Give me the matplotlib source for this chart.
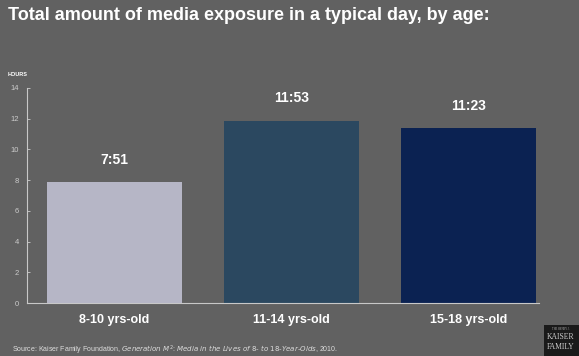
import matplotlib
matplotlib.use("Agg")
import matplotlib.pyplot as plt
from matplotlib.patches import Rectangle

categories = ["8-10 yrs-old", "11-14 yrs-old", "15-18 yrs-old"]
values = [7 + 51/60, 11 + 53/60, 11 + 23/60]
value_labels = ["7:51", "11:53", "11:23"]
yticks = [0, 2, 4, 6, 8, 10, 12, 14]
colors = ["#b6b6c6", "#2b4860", "#0b2252"]

bg = "#616161"
fig = plt.figure(figsize=(5.79, 3.56), dpi=100, facecolor=bg)
ax = fig.add_axes([27/579, 53/356, 512/579, 215/356])
ax.set_facecolor(bg)
font = "Liberation Sans"

x = list(range(len(categories)))
ax.bar(x, values, width=0.765, color=colors, edgecolor="none")
ax.set_xlim(-0.494, 2.40)
ax.set_ylim(0, 14)
ax.set_yticks(yticks)
ax.set_yticklabels([str(t) for t in yticks], fontsize=5.5, color="#dddddd",
                   family=font)
ax.tick_params(axis="y", direction="in", length=2, width=0.6, colors="#cccccc",
               pad=6)
ax.set_xticks(x)
ax.set_xticklabels(categories, fontsize=9, color="white", family=font,
                   fontweight="bold")
ax.tick_params(axis="x", length=0, pad=8)
for s in ["top", "right"]:
    ax.spines[s].set_visible(False)
for s in ["left", "bottom"]:
    ax.spines[s].set_color("#c8c8c8")
    ax.spines[s].set_linewidth(0.8)

for xi, v, lab in zip(x, values, value_labels):
    ax.annotate(lab, (xi, v), xytext=(0, 11), textcoords="offset points",
                ha="center", va="bottom", fontsize=10, color="white",
                fontweight="bold", family=font)

fig.text(8/579, 1 - 74/356, "HOURS", fontsize=4, color="white",
         fontweight="bold", family=font, va="center")
fig.text(8/579, 1 - 15/356,
         "Total amount of media exposure in a typical day, by age:",
         fontsize=13, color="white", fontweight="bold", family=font,
         va="center")
fig.text(12/579, 1 - 350/356,
         "Source: Kaiser Family Foundation, $\\it{Generation\\ M^2}$: "
         "$\\it{Media\\ in\\ the\\ Lives\\ of\\ 8\\text{-}\\ to\\ 18\\text{-}Year\\text{-}Olds}$, 2010.",
         fontsize=5, color="#dddddd", family=font, va="center")

fig.patches.append(Rectangle((544/579, 0), 35/579, 31/356,
                             transform=fig.transFigure, facecolor="#1a1a1a",
                             edgecolor="none"))
fig.text(561/579, 1 - 329/356, "THE HENRY J.", fontsize=2, color="#aaaaaa",
         family="Liberation Serif", ha="center", va="center")
fig.text(561/579, 1 - 337/356, "KAISER", fontsize=5.5, color="#cccccc",
         family="Liberation Serif", ha="center", va="center")
fig.text(561/579, 1 - 347/356, "FAMILY", fontsize=5.5, color="#cccccc",
         family="Liberation Serif", ha="center", va="center")

fig.savefig("out.png", dpi=100, facecolor=bg)
